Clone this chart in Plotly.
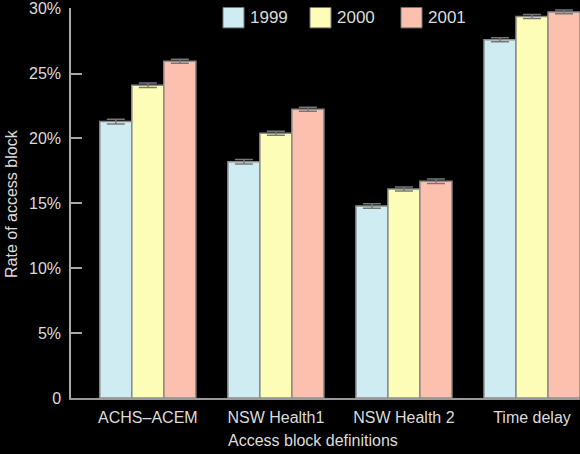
import plotly.graph_objects as go

# access block rates (%) by definition and year
definitions = ["ACHS\u2013ACEM", "NSW Health1", "NSW Health 2", "Time delay"]
years = ["1999", "2000", "2001"]
rate_1999 = [21.3, 18.2, 14.8, 27.6]
rate_2000 = [24.1, 20.4, 16.1, 29.4]
rate_2001 = [25.95, 22.25, 16.7, 29.75]
err_1999 = [0.18, 0.17, 0.17, 0.15]
err_2000 = [0.17, 0.15, 0.15, 0.15]
err_2001 = [0.16, 0.16, 0.17, 0.15]
y_ticks = [0, 5, 10, 15, 20, 25, 30]
y_tick_labels = ["0", "5%", "10%", "15%", "20%", "25%", "30%"]

colours = ["#d0ecf3", "#fdfdb8", "#fcc0ae"]
rates = [rate_1999, rate_2000, rate_2001]
errs = [err_1999, err_2000, err_2001]
TXT = "#dcdcdc"
FONT = "Liberation Sans, Arial, sans-serif"

# plot area in pixels: x 71..580, y 6..398
L, R, T, B = 71, 580, 6, 398
W, H = R - L, B - T


def px(x):
    return (x - L) / W


def py(y):
    return (B - y) / H


fig = go.Figure()
for yr, vals, e, c in zip(years, rates, errs, colours):
    fig.add_trace(go.Bar(
        name=yr, x=definitions, y=vals, marker_color=c,
        marker_line=dict(color="#8a8a8a", width=1.5),
        error_y=dict(type="data", array=e, visible=True,
                     color="#777", thickness=1.5, width=9),
        showlegend=False,
    ))

# hand-drawn legend boxes to match the large swatches
shapes, annotations = [], []
legend_x = [223, 310, 401]
for i, (yr, c) in enumerate(zip(years, colours)):
    x0 = legend_x[i]
    shapes.append(dict(type="rect", xref="paper", yref="paper",
                       x0=px(x0), x1=px(x0 + 21), y0=py(26), y1=py(5.5),
                       fillcolor=c, line=dict(color="#777", width=1)))
    annotations.append(dict(text=yr, xref="paper", yref="paper",
                            x=px(x0 + 25), y=py(16), xanchor="left",
                            yanchor="middle", showarrow=False,
                            font=dict(size=17, color=TXT, family=FONT)))

annotations.append(dict(text="Rate of access block", xref="paper",
                        yref="paper", x=px(12), y=py(203), textangle=-90,
                        xanchor="center", yanchor="middle", showarrow=False,
                        font=dict(size=16, color=TXT, family=FONT)))
annotations.append(dict(text="Access block definitions", xref="paper",
                        yref="paper", x=px(313), y=py(441), xanchor="center",
                        yanchor="middle", showarrow=False,
                        font=dict(size=16, color=TXT, family=FONT)))

fig.update_layout(
    barmode="group", bargap=0.25, bargroupgap=0,
    width=580, height=454,
    margin=dict(l=L, r=580 - R, t=T, b=454 - B),
    paper_bgcolor="black", plot_bgcolor="black",
    font=dict(family=FONT, size=16, color=TXT),
    shapes=shapes, annotations=annotations,
    xaxis=dict(range=[-0.6, 3.375], showline=True, linecolor="#999",
               linewidth=1.5, ticks="", showgrid=False,
               tickfont=dict(size=16, color=TXT), ticklabelstandoff=4),
    yaxis=dict(range=[0, 30.05], tickvals=y_ticks, ticktext=y_tick_labels,
               showline=True, linecolor="#aaa", linewidth=1.5,
               ticks="inside", ticklen=11, tickcolor="#aaa", tickwidth=1.5,
               showgrid=False, zeroline=False, ticklabeloverflow="allow",
               tickfont=dict(size=16, color=TXT), ticklabelstandoff=5),
)

# drop the browser's default page margin so the figure sits at (0, 0)
fig.write_html("out.html", config={"displayModeBar": False},
               post_script="document.body.style.margin='0';")
